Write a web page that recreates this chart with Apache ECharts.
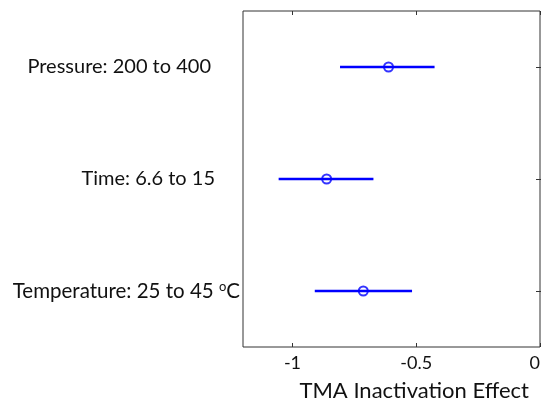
<!DOCTYPE html>
<html>
<head>
<meta charset="utf-8">
<script src="https://cdn.jsdelivr.net/npm/echarts@6/dist/echarts.min.js"></script>
<style>
  html, body { margin: 0; padding: 0; background: #fff; }
  #chart { width: 541px; height: 403px; }
</style>
</head>
<body>
<div id="chart"></div>
<script>
// factors, top to bottom
const factors = ["Pressure: 200 to 400", "Time: 6.6 to 15", "Temperature: 25 to 45 oC"];
// effect estimate and interval ends
const effect = [-0.612, -0.862, -0.714];
const lower = [-0.808, -1.056, -0.910];
const upper = [-0.426, -0.673, -0.517];
const xTicks = [-1, -0.5, 0];

const BLUE = "#0000ff";
const FONT = "Lato";

const chart = echarts.init(document.getElementById("chart"));

// each label ends at a slightly different place in the original
const labelPad = [29, 25, 0];

const catLabel = {
  fontFamily: FONT,
  fontSize: 20,
  color: "#111",
  margin: 3,
  formatter: function (v, i) {
    if (v.indexOf(" oC") > -1) {
      return "{s" + i + "|" + v.replace(" oC", " ") + "}{sup|o}{c|C}";
    }
    return "{s" + i + "|" + v + "}";
  },
  rich: {
    s0: { fontFamily: FONT, fontSize: 20, color: "#111", padding: [0, labelPad[0], 0, 0] },
    s1: { fontFamily: FONT, fontSize: 20, color: "#111", padding: [0, labelPad[1], 0, 0] },
    s2: { fontFamily: FONT, fontSize: 20.5, color: "#111", padding: [0, labelPad[2], 0, 0] },
    sup: { fontFamily: FONT, fontSize: 13, color: "#111", verticalAlign: "top", padding: [0, 0, 8, 0] },
    c: { fontFamily: FONT, fontSize: 20.5, color: "#111" },
  },
};

chart.setOption({
  backgroundColor: "#fff",
  animation: false,
  grid: {
    left: 243,
    right: 1,
    top: 11,
    bottom: 56,
    outerBoundsMode: "none",
    show: true,
    borderColor: "#333",
    borderWidth: 1,
  },
  xAxis: [
    {
      type: "value",
      min: -1.2,
      max: 0,
      position: "bottom",
      axisLine: { show: false },
      splitLine: { show: false },
      axisTick: { show: true, inside: true, length: 4, customValues: xTicks, lineStyle: { color: "#333" } },
      axisLabel: {
        customValues: xTicks,
        alignMaxLabel: "right",
        fontFamily: FONT,
        fontSize: 18,
        color: "#111",
        margin: 7,
        formatter: (v) => String(v),
      },
      name: "TMA Inactivation Effect",
      nameLocation: "end",
      nameGap: 0,
      nameTextStyle: {
        fontFamily: FONT,
        fontSize: 22,
        color: "#111",
        align: "right",
        verticalAlign: "top",
        padding: [33, 11, 0, 0],
      },
    },
    {
      type: "value",
      min: -1.2,
      max: 0,
      position: "top",
      axisLine: { show: false },
      splitLine: { show: false },
      axisLabel: { show: false },
      axisTick: { show: true, inside: true, length: 4, customValues: xTicks, lineStyle: { color: "#333" } },
    },
  ],
  yAxis: [
    {
      type: "category",
      data: factors,
      inverse: true,
      position: "left",
      axisLine: { show: false },
      splitLine: { show: false },
      axisTick: { show: true, inside: true, length: 4, alignWithLabel: true, lineStyle: { color: "#333" } },
      axisLabel: catLabel,
    },
    {
      type: "category",
      data: factors,
      inverse: true,
      position: "right",
      axisLine: { show: false },
      splitLine: { show: false },
      axisTick: { show: true, inside: true, length: 4, alignWithLabel: true, lineStyle: { color: "#333" } },
      axisLabel: { show: false },
    },
  ],
  series: [
    {
      type: "custom",
      renderItem: function (params, api) {
        const a = api.coord([api.value(0), api.value(2)]);
        const b = api.coord([api.value(1), api.value(2)]);
        return {
          type: "line",
          shape: { x1: a[0], y1: a[1], x2: b[0], y2: b[1] },
          style: { stroke: BLUE, lineWidth: 2.5 },
        };
      },
      encode: { x: [0, 1], y: 2 },
      data: factors.map((f, i) => [lower[i], upper[i], f]),
      z: 2,
    },
    {
      type: "scatter",
      symbol: "circle",
      symbolSize: 9,
      itemStyle: { color: "rgba(0,0,0,0)", borderColor: BLUE, borderWidth: 2 },
      data: factors.map((f, i) => [effect[i], f]),
      z: 3,
    },
  ],
});
</script>
</body>
</html>
